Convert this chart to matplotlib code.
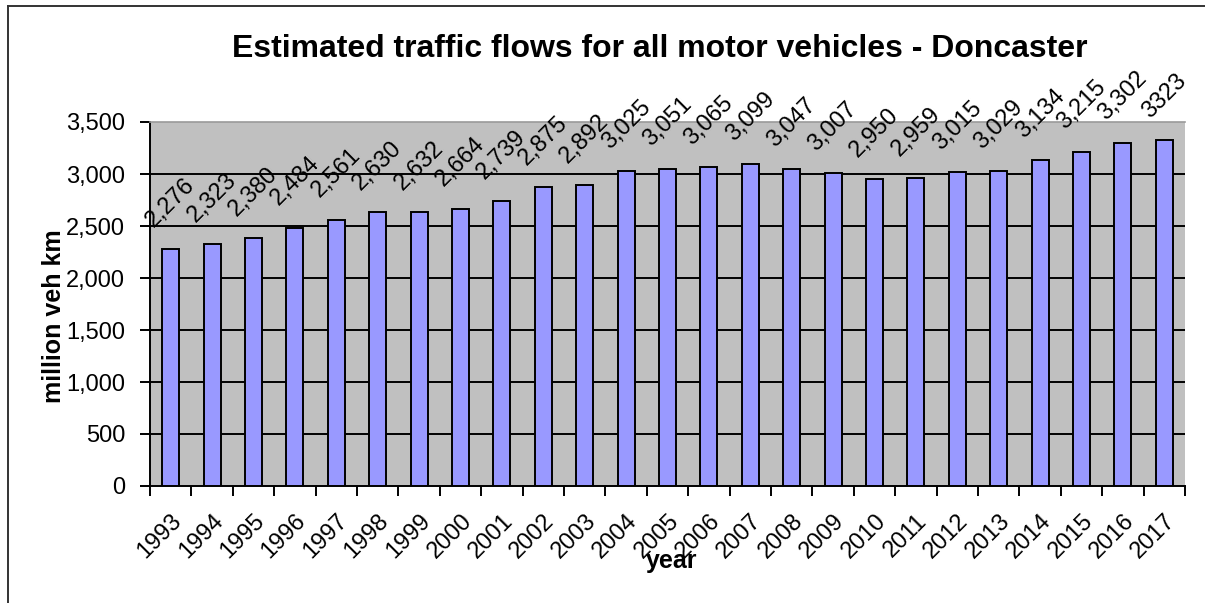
import matplotlib
matplotlib.use("Agg")
import matplotlib.pyplot as plt
from matplotlib.lines import Line2D
import numpy as np

plt.rcParams['font.family'] = ['Liberation Sans', 'DejaVu Sans']

years = ['1993', '1994', '1995', '1996', '1997', '1998', '1999', '2000', '2001',
         '2002', '2003', '2004', '2005', '2006', '2007', '2008', '2009', '2010',
         '2011', '2012', '2013', '2014', '2015', '2016', '2017']
values = [2276, 2323, 2380, 2484, 2561, 2630, 2632, 2664, 2739, 2875, 2892, 3025,
          3051, 3065, 3099, 3047, 3007, 2950, 2959, 3015, 3029, 3134, 3215, 3302, 3323]
value_labels = ['2,276', '2,323', '2,380', '2,484', '2,561', '2,630', '2,632', '2,664',
                '2,739', '2,875', '2,892', '3,025', '3,051', '3,065', '3,099', '3,047',
                '3,007', '2,950', '2,959', '3,015', '3,029', '3,134', '3,215', '3,302', '3323']
yticks = [0, 500, 1000, 1500, 2000, 2500, 3000, 3500]
ytick_labels = ['0', '500', '1,000', '1,500', '2,000', '2,500', '3,000', '3,500']

W, H = 1205, 603
fig = plt.figure(figsize=(W / 100, H / 100), dpi=100)
ax = fig.add_axes([150 / W, 1 - 486 / H, (1185 - 150) / W, (486 - 122) / H])
ax.set_facecolor('#C0C0C0')

x = np.arange(len(years))
ax.bar(x, values, width=0.41, color='#9999FF', edgecolor='black', linewidth=1.4, zorder=3)

ax.set_xlim(-0.5, len(years) - 0.5)
ax.set_ylim(0, 3500)
ax.set_yticks(yticks)
ax.set_yticklabels(ytick_labels, fontsize=17)
for yv in yticks[1:-1]:
    ax.axhline(yv, color='black', linewidth=1.4, zorder=1)

ax.set_xticks(x)
ax.set_xticklabels(years, fontsize=17, rotation=45, ha='right', va='top',
                   rotation_mode='anchor')
ax.set_xticks(np.arange(-0.5, len(years)), minor=True)
ax.tick_params(axis='x', which='major', length=0, pad=17)
ax.tick_params(axis='x', which='minor', length=7, width=1.4, direction='out')
ax.tick_params(axis='y', length=7, width=1.4, pad=11, direction='out')

ax.spines['left'].set_linewidth(1.4)
ax.spines['bottom'].set_linewidth(1.4)
ax.spines['top'].set_color('#9a9a9a')
ax.spines['top'].set_linewidth(1.2)
ax.spines['right'].set_visible(False)

for xi, v, lab in zip(x, values, value_labels):
    ax.annotate(lab, (xi, v), xytext=(0, 13), textcoords='offset points',
                rotation=45, ha='center', va='bottom', fontsize=17,
                annotation_clip=False, zorder=4)

fig.text(660 / W, 1 - 57 / H, 'Estimated traffic flows for all motor vehicles - Doncaster',
         ha='center', va='baseline', fontsize=23, fontweight='bold')
fig.text(54 / W, 1 - 316 / H, 'million veh km', rotation=90, ha='center', va='center',
         fontsize=18, fontweight='bold')
fig.text(672 / W, 1 - 568 / H, 'year', ha='center', va='baseline',
         fontsize=18, fontweight='bold')

fig.add_artist(Line2D([8 / W, 8 / W], [0, 1 - 6 / H], transform=fig.transFigure,
                      color='#333333', linewidth=1.4))
fig.add_artist(Line2D([8 / W, 1], [1 - 6 / H, 1 - 6 / H], transform=fig.transFigure,
                      color='#333333', linewidth=1.4))

fig.savefig('out.png', dpi=100)
